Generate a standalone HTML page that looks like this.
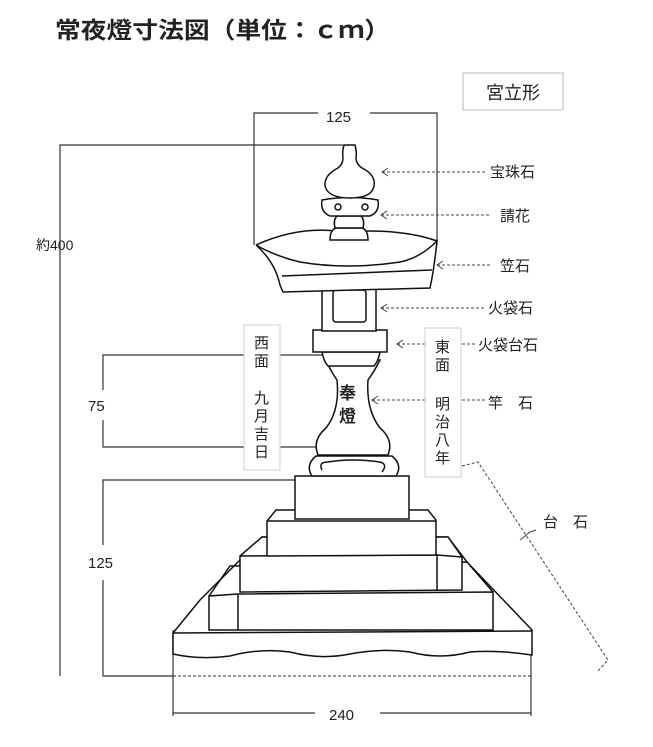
<!DOCTYPE html>
<html><head><meta charset="utf-8"><style>
body{margin:0;background:#fff}
svg{display:block}
text{font-family:"Liberation Sans","Noto Sans CJK JP",sans-serif;fill:#222}
</style></head><body>
<svg width="653" height="747" viewBox="0 0 653 747" xmlns="http://www.w3.org/2000/svg">
<text x="55" y="38" font-size="23" font-weight="bold" fill="#000" textLength="335" lengthAdjust="spacingAndGlyphs">常夜燈寸法図（単位：ｃｍ）</text>
<rect x="463" y="73" width="100" height="37" fill="none" stroke="#bbb"/>
<text x="486" y="99" font-size="18">宮立形</text>
<g stroke="#333" stroke-width="1.2" fill="none">
<path d="M254 245V113H318M370 113H437V245"/>
<path d="M343 145H60V676"/>
<path d="M322 355H103V390M103 420V447H322"/>
<path d="M295 480H103V545M103 580V676H173"/>
<path d="M173 630V716M531 630V716M173 713H315M380 713H531"/>
</g>
<path d="M173 676H531" stroke="#333" stroke-dasharray="3,2" fill="none"/>
<text x="326" y="122" font-size="15">125</text>
<text x="36" y="250" font-size="14">約400</text>
<text x="88" y="411" font-size="15">75</text>
<text x="88" y="568" font-size="15">125</text>
<text x="329" y="720" font-size="15">240</text>
<g stroke="#444" stroke-dasharray="3,2" fill="none">
<path d="M382 172H485M381 215H490M437 265H490M381 308H485M397 344H475M372 400H485"/>
<path d="M462 466L478 462L608 660L597 672"/>
</g>
<g stroke="#444" fill="none">
<path d="M388 168L382 172L388 176M387 211L381 215L387 219M443 261L437 265L443 269M387 304L381 308L387 312M403 340L397 344L403 348M378 396L372 400L378 404M520 540L530 532L536 530"/>
</g>
<g font-size="15">
<text x="490" y="177">宝珠石</text>
<text x="500" y="221">請花</text>
<text x="500" y="271">笠石</text>
<text x="488" y="313">火袋石</text>
<text x="478" y="350">火袋台石</text>
<text x="488" y="408">竿　石</text>
<text x="543" y="527">台　石</text>
</g>
<rect x="244" y="325" width="36" height="145" fill="#fff" stroke="#ccc"/>
<rect x="425" y="328" width="36" height="149" fill="#fff" stroke="#ccc"/>
<g font-size="15">
<text x="254" y="348">西</text><text x="254" y="366">面</text>
<text x="254" y="403">九</text><text x="254" y="421">月</text><text x="254" y="439">吉</text><text x="254" y="457">日</text>
<text x="435" y="352">東</text><text x="435" y="370">面</text>
<text x="435" y="409">明</text><text x="435" y="427">治</text><text x="435" y="445">八</text><text x="435" y="463">年</text>
</g>
<g stroke="#111" stroke-width="1.5" fill="#fff">
<!-- ground / slope -->
<path d="M173 633L200 600L240 560L262 537H448L467 562L532 630V655Q500 650 470 652Q440 660 410 652Q380 648 350 654Q320 660 290 652Q260 648 230 656Q200 660 173 654Z"/>
<path d="M173 633L532 631"/>
<!-- step4 -->
<path d="M209 630V596L238 594L493 592V630Z"/>
<path d="M238 594V630"/>
<path d="M209 596L230 566L467 562L493 592" fill="none"/>
<!-- step3 -->
<path d="M240 592V556L262 537H448L462 557V590Z"/>
<path d="M240 556L437 555V590M437 555L462 557" fill="none"/>
<!-- step2 -->
<path d="M267 556V521L276 510H428L436 520V555Z"/>
<path d="M267 521H436" fill="none"/>
<rect x="295" y="476" width="114" height="43"/>
<!-- foot -->
<path d="M312 476Q305 465 316 456H392Q403 465 396 476Z"/>
<path d="M322 470Q318 462 328 462Q352 458 380 462Q388 464 382 472"/>
<!-- shaft -->
<path d="M318 455Q312 440 326 428Q340 410 337 380Q330 370 326 360L380 360Q374 372 368 380Q366 410 380 428Q394 440 388 455Z"/>
<path d="M322 352H380Q378 362 374 366H328Q324 362 322 352Z"/>
<rect x="313" y="330" width="74" height="22"/>
<rect x="322" y="281" width="54" height="50"/>
<rect x="333" y="290" width="33" height="32" rx="3"/>
<!-- roof -->
<path d="M256 245Q275 262 280 285L283 292L430 288Q434 270 437 241Q420 258 400 262Q346 270 300 262Q275 256 256 245Z"/>
<path d="M256 245Q300 225 345 232Q400 228 437 241"/>
<path d="M282 276L432 270"/>
<path d="M330 240Q330 230 336 228H362Q368 230 368 240Z"/>
<path d="M335 228Q333 220 337 216H361Q365 220 363 228Z"/>
<path d="M322 200Q320 212 330 216H370Q380 212 378 200Q350 195 322 200Z"/>
<circle cx="338" cy="207" r="3"/><circle cx="365" cy="207" r="3"/>
<path d="M344 145Q342 152 343 158Q343 164 338 168Q324 175 325 186Q328 198 350 198Q372 198 374 186Q376 175 362 168Q356 164 356 158Q357 152 355 145Z"/>
</g>
<text x="339" y="399" font-size="17" font-weight="bold" fill="#111" font-family="'Noto Serif CJK SC',serif">奉</text>
<text x="339" y="422" font-size="17" font-weight="bold" fill="#111" font-family="'Noto Serif CJK SC',serif">燈</text>
</svg>
</body></html>
